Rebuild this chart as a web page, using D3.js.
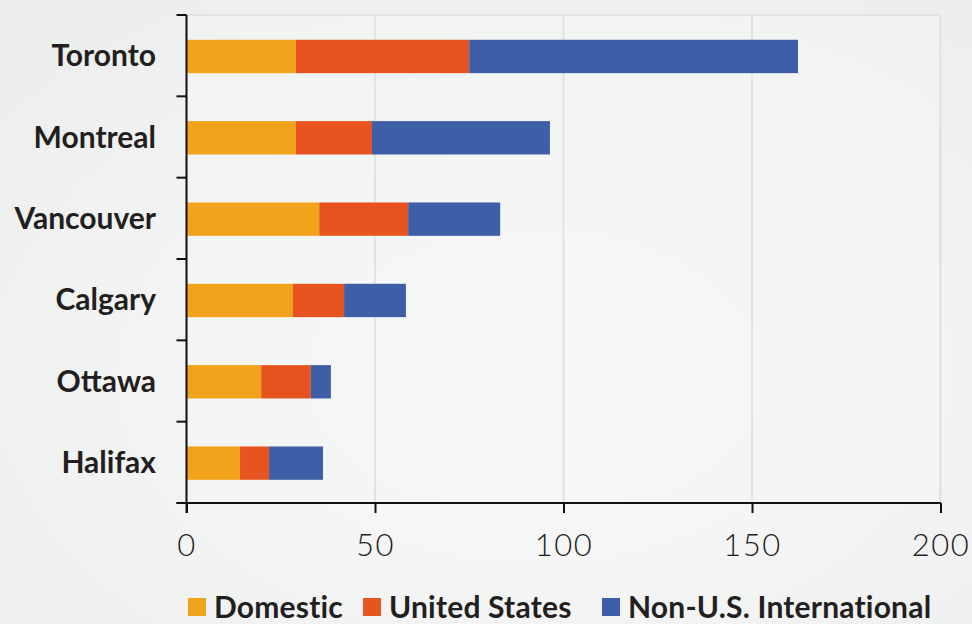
<!DOCTYPE html>
<html>
<head>
<meta charset="utf-8">
<script src="https://cdn.jsdelivr.net/npm/d3@7"></script>
<style>
    html, body { margin: 0; padding: 0; }
    body { width: 972px; height: 624px; overflow: hidden; }
    text { font-family: Lato, "Open Sans", sans-serif; fill: #231f20; }
</style>
</head>
<body>
<div id="wrapper"></div>
<script>
const cities = ["Toronto", "Montreal", "Vancouver", "Calgary", "Ottawa", "Halifax"];
const domestic = [29.0, 29.0, 35.2, 28.2, 19.8, 14.2];
const unitedStates = [46.0, 20.2, 23.6, 13.6, 13.2, 7.7];
const nonUS = [87.2, 47.2, 24.4, 16.4, 5.3, 14.3];
const seriesNames = ["Domestic", "United States", "Non-U.S. International"];
const xTicks = [0, 50, 100, 150, 200];
const colors = ["#f0a31b", "#e8541f", "#3f5ea8"];

const dimensions = {
    width: 972,
    height: 624,
    margin: {
        top: 15,
        right: 32,
        bottom: 121,
        left: 186.5,
    },
}

const dataset = cities.map((c, i) => ({
    city: c,
    "Domestic": domestic[i],
    "United States": unitedStates[i],
    "Non-U.S. International": nonUS[i],
}));

const wrapper = d3.select("#wrapper")
    .append("svg")
    .attr("width", dimensions.width)
    .attr("height", dimensions.height);

// background
const defs = wrapper.append("defs");
const grad = defs.append("radialGradient")
    .attr("id", "bg")
    .attr("cx", "55%").attr("cy", "60%").attr("r", "75%");
grad.append("stop").attr("offset", "0%").attr("stop-color", "#fbfbfb");
grad.append("stop").attr("offset", "100%").attr("stop-color", "#eceded");

wrapper.append("rect")
    .attr("width", dimensions.width)
    .attr("height", dimensions.height)
    .attr("fill", "url(#bg)");

const x0 = dimensions.margin.left;
const x1 = dimensions.width - dimensions.margin.right;
const y0 = dimensions.margin.top;
const y1 = dimensions.height - dimensions.margin.bottom;

const xScale = d3.scaleLinear()
    .domain([0, 200])
    .range([x0, x1 + 0.5]);

const yScale = d3.scaleBand()
    .domain(cities)
    .range([y0, y1])
    .padding(0);

// plot area
wrapper.append("rect")
    .attr("x", x0)
    .attr("y", y0)
    .attr("width", x1 - x0)
    .attr("height", y1 - y0)
    .attr("fill", "#f4f5f5")
    .attr("fill-opacity", 0.6)
    .attr("stroke", "#e3e4e4")
    .attr("stroke-width", 2);

// grid
wrapper.append("g")
    .selectAll("line")
    .data(xTicks.slice(1))
    .enter()
    .append("line")
    .attr("x1", d => xScale(d))
    .attr("x2", d => xScale(d))
    .attr("y1", y0)
    .attr("y2", y1)
    .attr("stroke", "#e2e3e3")
    .attr("stroke-width", 2);

// bars
const stack = d3.stack().keys(seriesNames);
const layers = stack(dataset);
const barH = yScale.bandwidth() * 0.41;

wrapper.append("g")
    .selectAll("g")
    .data(layers)
    .enter()
    .append("g")
    .attr("fill", (d, i) => colors[i])
    .selectAll("rect")
    .data(d => d)
    .enter()
    .append("rect")
    .attr("x", d => xScale(d[0]))
    .attr("y", d => yScale(d.data.city) + yScale.bandwidth() / 2 - barH / 2 + 0.8)
    .attr("width", d => xScale(d[1]) - xScale(d[0]))
    .attr("height", barH);

// y axis
const yAxis = wrapper.append("g");
yAxis.append("line")
    .attr("x1", x0).attr("x2", x0)
    .attr("y1", y0).attr("y2", y1 + 10)
    .attr("stroke", "#111").attr("stroke-width", 2);
const bounds = cities.map(c => yScale(c)).concat([y1]);
yAxis.selectAll(".ytick")
    .data(bounds)
    .enter()
    .append("line")
    .attr("class", "ytick")
    .attr("x1", x0 - 10).attr("x2", x0)
    .attr("y1", d => d).attr("y2", d => d)
    .attr("stroke", "#111").attr("stroke-width", 2);
yAxis.selectAll("text")
    .data(cities)
    .enter()
    .append("text")
    .attr("x", 156)
    .attr("y", d => yScale(d) + yScale.bandwidth() / 2)
    .attr("dy", "0.35em")
    .attr("text-anchor", "end")
    .attr("font-size", 30)
    .attr("font-weight", 700)
    .text(d => d);

// x axis
const xAxis = wrapper.append("g")
    .attr("transform", `translate(0, ${y1})`)
    .call(d3.axisBottom(xScale).tickValues(xTicks).tickSize(10).tickPadding(21).tickSizeOuter(0));
xAxis.select(".domain")
    .attr("d", `M${x0 - 10},0H${x1 + 1}`)
    .attr("stroke", "#111")
    .attr("stroke-width", 2);
xAxis.selectAll(".tick line")
    .attr("stroke", "#111")
    .attr("stroke-width", 2);
xAxis.selectAll(".tick text")
    .attr("font-family", "Lato, sans-serif")
    .attr("font-size", 31)
    .attr("font-weight", 300)
    .attr("letter-spacing", 1.5)
    .attr("fill", "#111");

// legend
const legendX = [188, 363, 602];
const legend = wrapper.append("g")
    .selectAll("g")
    .data(seriesNames)
    .enter()
    .append("g")
    .attr("transform", (d, i) => `translate(${legendX[i]}, 598)`);
legend.append("rect")
    .attr("width", 18)
    .attr("height", 18)
    .attr("fill", (d, i) => colors[i]);
legend.append("text")
    .attr("x", 26)
    .attr("y", 9)
    .attr("dy", "0.36em")
    .attr("font-size", 30)
    .attr("font-weight", 700)
    .attr("letter-spacing", 0.2)
    .text(d => d);
</script>
</body>
</html>
